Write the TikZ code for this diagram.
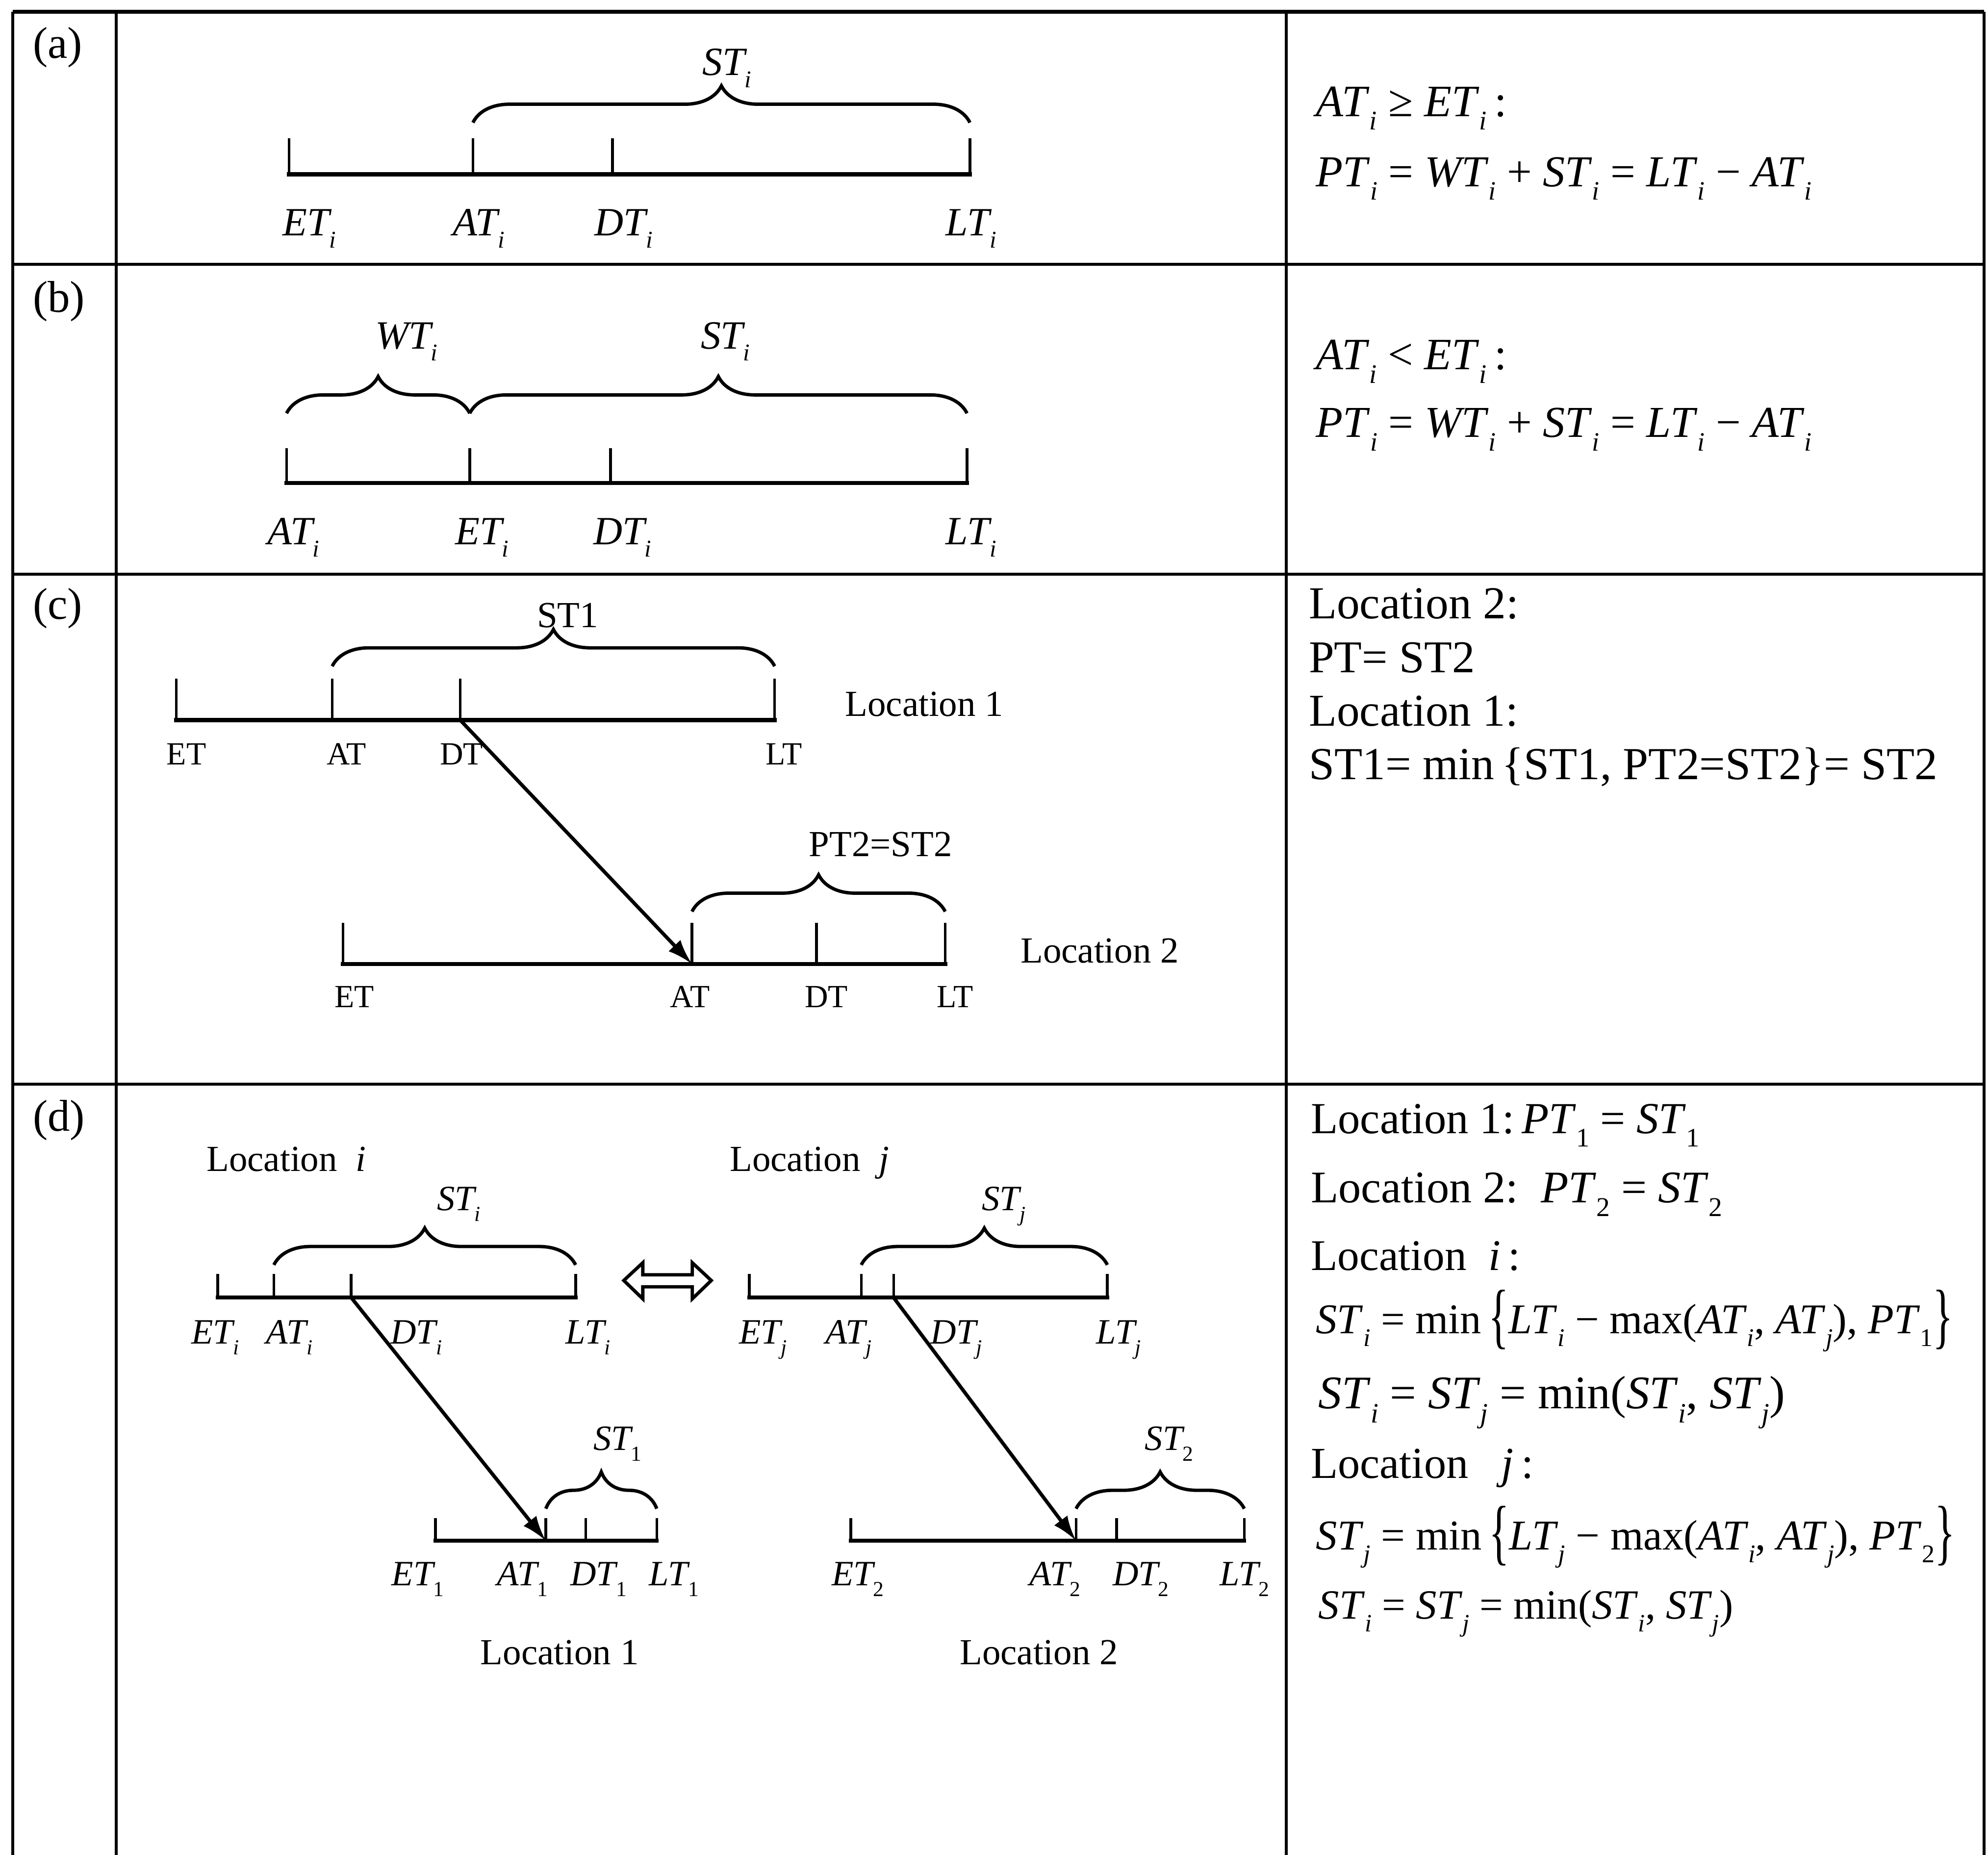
\documentclass[tikz,border=0pt]{standalone}
\usepackage{fontspec}
\setmainfont{Liberation Serif}
\usepackage{graphicx}
\usetikzlibrary{decorations.pathreplacing,arrows.meta}
\newcommand\sbs[1]{\raisebox{-0.3em}{\scalebox{0.6}{#1}}}
\newcommand\iv[2]{\textit{#1}\sbs{\textit{#2}}}
\newcommand\ivn[2]{\textit{#1}\sbs{\textup{#2}}}
\newcommand\fs[1]{\fontsize{#1}{#1}\selectfont}
\newcommand\bgl{\raisebox{-0.15em}{\scalebox{1}[1.7]{\{}}}
\newcommand\bgr{\raisebox{-0.15em}{\scalebox{1}[1.7]{\}}}}
\newcommand\rw[2]{\resizebox{#1cm}{!}{#2}}
\tikzset{
 grid/.style={line width=1.3pt},
 tl/.style={line width=1.8pt,line cap=rect},
 tk/.style={line width=1.2pt},
 brc/.style={decorate,decoration={brace,amplitude=0.58cm},line width=1.5pt},
 arr/.style={line width=1.6pt,-{Latex[length=0.4cm,width=0.26cm]}},
 lab/.style={anchor=base west,inner sep=0pt,outer sep=0pt},
 tA/.style={lab,font=\fs{18pt}\itshape},
 tC/.style={lab,font=\fs{14.5pt}},
 tCl/.style={lab,font=\fs{16.5pt}},
 tD/.style={lab,font=\fs{16pt}\itshape},
 tDl/.style={lab,font=\fs{16.5pt}},
 pan/.style={lab,font=\fs{20pt}},
 rt/.style={lab,font=\fs{19pt}},
}
\begin{document}
\begin{tikzpicture}[x=0.02cm,y=-0.02cm]
\useasboundingbox (0,0) rectangle (1568,1463);
% table
\draw[line width=1.7pt] (10,9.3) -- (1565,9.3);
\draw[grid] (10,1463) -- (10,9.3);
\draw[grid] (91.5,1463) -- (91.5,9.3);
\draw[grid] (1014.5,1463) -- (1014.5,9.3);
\draw[grid] (1565,1463) -- (1565,9.3);
\draw[grid] (10,208.5) -- (1565,208.5);
\draw[grid] (10,453) -- (1565,453);
\draw[grid] (10,855) -- (1565,855);
\node[pan] (pa) at (26,46) {(a)};
\node[pan] (pb) at (26,246.3) {(b)};
\node[pan] (pc) at (26,488.3) {(c)};
\node[pan] (pd) at (26,892) {(d)};

% ---------- (a)
\coordinate (aET) at (228,137.5);
\coordinate (aAT) at (373,137.5);
\coordinate (aDT) at (483,137.5);
\coordinate (aLT) at (765,137.5);
\draw[tl] (aET) -- (aLT);
\foreach \c in {aET,aAT,aDT,aLT} \draw[tk] (\c) -- ++(0,-28.5);
\coordinate (aB1) at (373,96.7);
\coordinate (aB2) at (765,96.7);
\draw[brc] (aB1) -- (aB2);
\node[tA] (aST) at (554,59.5) {\iv{ST}{i}};
\node[tA] (laET) at (223,186) {\iv{ET}{i}};
\node[tA] (laAT) at (357,186) {\iv{AT}{i}};
\node[tA] (laDT) at (469,186) {\iv{DT}{i}};
\node[tA] (laLT) at (746,186) {\iv{LT}{i}};
\node[rt] (ra1) at (1038,91.8) {\rw{3.01}{\iv{AT}{i} ≥ \iv{ET}{i}\,:}};
\node[rt] (ra2) at (1038,147) {\rw{7.82}{\iv{PT}{i} = \iv{WT}{i} + \iv{ST}{i} = \iv{LT}{i} − \iv{AT}{i}}};

% ---------- (b)
\coordinate (bAT) at (226,381);
\coordinate (bET) at (370.5,381);
\coordinate (bDT) at (481.6,381);
\coordinate (bLT) at (762.7,381);
\draw[tl] (bAT) -- (bLT);
\foreach \c in {bAT,bET,bDT,bLT} \draw[tk] (\c) -- ++(0,-27.5);
\coordinate (bB1) at (226,326);
\coordinate (bB2) at (370.5,326);
\coordinate (bB3) at (762.7,326);
\draw[brc] (bB1) -- (bB2);
\draw[brc] (bB2) -- (bB3);
\node[tA] (bWT) at (296,275) {\iv{WT}{i}};
\node[tA] (bST) at (552.7,275) {\iv{ST}{i}};
\node[tA] (lbAT) at (211,429.7) {\iv{AT}{i}};
\node[tA] (lbET) at (359,429.7) {\iv{ET}{i}};
\node[tA] (lbDT) at (468,429.7) {\iv{DT}{i}};
\node[tA] (lbLT) at (746,429.7) {\iv{LT}{i}};
\node[rt] (rb1) at (1038,291.5) {\rw{3.01}{\iv{AT}{i} < \iv{ET}{i}\,:}};
\node[rt] (rb2) at (1038,345) {\rw{7.82}{\iv{PT}{i} = \iv{WT}{i} + \iv{ST}{i} = \iv{LT}{i} − \iv{AT}{i}}};

% ---------- (c)
\coordinate (cET) at (139,568);
\coordinate (cAT) at (262,568);
\coordinate (cDT) at (363,568);
\coordinate (cLT) at (611,568);
\draw[tl] (cET) -- (cLT);
\foreach \c in {cET,cAT,cDT,cLT} \draw[tk] (\c) -- ++(0,-32.6);
\coordinate (cB1) at (262,525.5);
\coordinate (cB2) at (611,525.5);
\draw[brc] (cB1) -- (cB2);
\node[tCl] (cST) at (423.6,494.7) {ST1};
\node[tC] (lcET) at (131.5,603.3) {ET};
\node[tC] (lcAT) at (257.6,603.3) {AT};
\node[tC] (lcDT) at (347,603.3) {DT};
\node[tC] (lcLT) at (604,603.3) {LT};
\node[tCl] (cL1) at (666.6,565) {Location 1};
\coordinate (c2ET) at (270.5,760.4);
\coordinate (c2AT) at (545.8,760.4);
\coordinate (c2DT) at (644,760.4);
\coordinate (c2LT) at (745.5,760.4);
\draw[tl] (c2ET) -- (c2LT);
\foreach \c in {c2ET,c2AT,c2DT,c2LT} \draw[tk] (\c) -- ++(0,-32.6);
\coordinate (c2B1) at (545.8,719);
\coordinate (c2B2) at (745.5,719);
\draw[brc] (c2B1) -- (c2B2);
\node[tCl] (c2PT) at (638,675.5) {PT2=ST2};
\node[tCl] (cL2) at (805,759.4) {Location 2};
\node[tC] (lc2ET) at (264,794.5) {ET};
\node[tC] (lc2AT) at (528.7,794.5) {AT};
\node[tC] (lc2DT) at (634.8,794.5) {DT};
\node[tC] (lc2LT) at (739,794.5) {LT};
\draw[arr] (cDT) -- (c2AT);
\node[rt] (rc1) at (1032.4,488) {\rw{3.31}{Location 2:}};
\node[rt] (rc2) at (1032.4,530.3) {\rw{2.62}{PT= ST2}};
\node[rt] (rc3) at (1032.4,572.5) {\rw{3.30}{Location 1:}};
\node[rt] (rc4) at (1032.4,614.7) {\rw{9.92}{ST1= min\,\{ST1, PT2=ST2\}= ST2}};

% ---------- (d)
\node[tDl] (dLi) at (163,924) {Location\hspace{0.5em}\textit{i}};
\node[tDl] (dLj) at (575.6,924) {Location\hspace{0.5em}\textit{j}};
% location i
\coordinate (diET) at (171.8,1023.5);
\coordinate (diAT) at (216,1023.5);
\coordinate (diDT) at (277,1023.5);
\coordinate (diLT) at (454,1023.5);
\draw[tl] (diET) -- (diLT);
\foreach \c in {diET,diAT,diDT,diLT} \draw[tk] (\c) -- ++(0,-18.5);
\coordinate (diB1) at (216,997.7);
\coordinate (diB2) at (454,997.7);
\draw[brc] (diB1) -- (diB2);
\node[tD] (diST) at (344.7,954.7) {\iv{ST}{i}};
\node[tD] (ldiET) at (151,1060) {\iv{ET}{i}};
\node[tD] (ldiAT) at (210,1060) {\iv{AT}{i}};
\node[tD] (ldiDT) at (308,1060) {\iv{DT}{i}};
\node[tD] (ldiLT) at (446,1060) {\iv{LT}{i}};
% location j
\coordinate (djET) at (591,1023.5);
\coordinate (djAT) at (679.3,1023.5);
\coordinate (djDT) at (704.8,1023.5);
\coordinate (djLT) at (873.4,1023.5);
\draw[tl] (djET) -- (djLT);
\foreach \c in {djET,djAT,djDT,djLT} \draw[tk] (\c) -- ++(0,-18.5);
\coordinate (djB1) at (679.3,997.7);
\coordinate (djB2) at (873.4,997.7);
\draw[brc] (djB1) -- (djB2);
\node[tD] (djST) at (774.5,954.7) {\iv{ST}{j}};
\node[tD] (ldjET) at (583,1060) {\iv{ET}{j}};
\node[tD] (ldjAT) at (651,1060) {\iv{AT}{j}};
\node[tD] (ldjDT) at (734,1060) {\iv{DT}{j}};
\node[tD] (ldjLT) at (864.6,1060) {\iv{LT}{j}};
% double arrow
\draw[line width=1.5pt,line join=miter] (492,1010) -- (507,996) -- (507,1005.5) -- (546,1005.5) -- (546,996) -- (561,1010) -- (546,1024.5) -- (546,1015) -- (507,1015) -- (507,1024.5) -- cycle;
% location 1
\coordinate (d1ET) at (343.5,1215.3);
\coordinate (d1AT) at (430.5,1215.3);
\coordinate (d1DT) at (462,1215.3);
\coordinate (d1LT) at (518,1215.3);
\draw[tl] (d1ET) -- (d1LT);
\foreach \c in {d1ET,d1AT,d1DT,d1LT} \draw[tk] (\c) -- ++(0,-17.8);
\coordinate (d1B1) at (430.5,1190);
\coordinate (d1B2) at (518,1190);
\draw[brc] (d1B1) -- (d1B2);
\node[tD] (d1ST) at (468,1144) {\ivn{ST}{1}};
\node[tD] (ld1ET) at (309,1250.8) {\ivn{ET}{1}};
\node[tD] (ld1AT) at (392,1250.8) {\ivn{AT}{1}};
\node[tD] (ld1DT) at (450,1250.8) {\ivn{DT}{1}};
\node[tD] (ld1LT) at (512,1250.8) {\ivn{LT}{1}};
% location 2
\coordinate (d2ET) at (671,1215.3);
\coordinate (d2AT) at (848.7,1215.3);
\coordinate (d2DT) at (880.6,1215.3);
\coordinate (d2LT) at (981.4,1215.3);
\draw[tl] (d2ET) -- (d2LT);
\foreach \c in {d2ET,d2AT,d2DT,d2LT} \draw[tk] (\c) -- ++(0,-17.8);
\coordinate (d2B1) at (848.7,1190);
\coordinate (d2B2) at (981.4,1190);
\draw[brc] (d2B1) -- (d2B2);
\node[tD] (d2ST) at (903,1144) {\ivn{ST}{2}};
\node[tD] (ld2ET) at (656,1250.8) {\ivn{ET}{2}};
\node[tD] (ld2AT) at (812,1250.8) {\ivn{AT}{2}};
\node[tD] (ld2DT) at (877.6,1250.8) {\ivn{DT}{2}};
\node[tD] (ld2LT) at (962,1250.8) {\ivn{LT}{2}};
\node[tDl] (dL1) at (379,1313) {Location 1};
\node[tDl] (dL2) at (757,1313) {Location 2};
\draw[arr] (diDT) -- (d1AT);
\draw[arr] (djDT) -- (d2AT);
% right column (d)
\node[rt] (rd1) at (1034,894) {\rw{6.13}{Location 1:\,\ivn{PT}{1} = \ivn{ST}{1}}};
\node[rt] (rd2) at (1034,948.6) {\rw{6.49}{Location 2:\ \ \ivn{PT}{2} = \ivn{ST}{2}}};
\node[rt] (rd3) at (1034,1001.8) {\rw{3.30}{Location\ \ \textit{i}\,:}};
\node[rt] (rd4) at (1038,1052) {\rw{10.05}{\iv{ST}{i} = min\,\bgl\iv{LT}{i} − max(\iv{AT}{i}, \iv{AT}{j}), \ivn{PT}{1}\bgr}};
\node[rt] (rd5) at (1040,1111) {\rw{7.36}{\iv{ST}{i} = \iv{ST}{j} = min(\iv{ST}{i}, \iv{ST}{j})}};
\node[rt] (rd6) at (1034,1166) {\rw{3.51}{Location\ \ \ \textit{j}\,:}};
\node[rt] (rd7) at (1038,1222.4) {\rw{10.08}{\iv{ST}{j} = min\,\bgl\iv{LT}{j} − max(\iv{AT}{i}, \iv{AT}{j}), \ivn{PT}{2}\bgr}};
\node[rt] (rd8) at (1040,1277) {\rw{6.54}{\iv{ST}{i} = \iv{ST}{j} = min(\iv{ST}{i}, \iv{ST}{j})}};
\end{tikzpicture}
\end{document}
